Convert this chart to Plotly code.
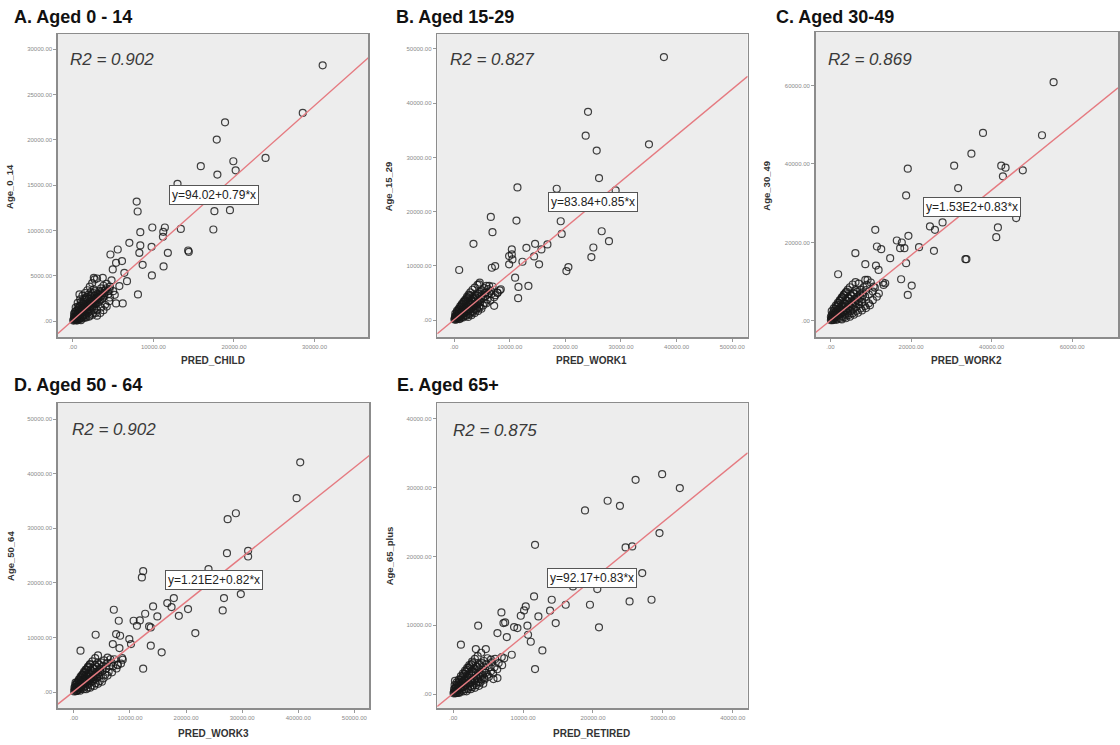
import plotly.graph_objects as go

W, H = 1120, 745

# ---------------- data ----------------
titles = ["A. Aged 0 - 14", "B. Aged 15-29", "C. Aged 30-49", "D. Aged 50 - 64", "E. Aged 65+"]
x_titles = ["PRED_CHILD", "PRED_WORK1", "PRED_WORK2", "PRED_WORK3", "PRED_RETIRED"]
y_titles = ["Age_0_14", "Age_15_29", "Age_30_49", "Age_50_64", "Age_65_plus"]
r2_values = ["0.902", "0.827", "0.869", "0.902", "0.875"]
intercepts = [94.02, 83.84, 153.0, 121.0, 92.17]
slopes = [0.79, 0.85, 0.83, 0.82, 0.83]
equations = ["y=94.02+0.79*x", "y=83.84+0.85*x", "y=1.53E2+0.83*x", "y=1.21E2+0.82*x", "y=92.17+0.83*x"]

x_ticks_A = [0, 10000, 20000, 30000]
y_ticks_A = [0, 5000, 10000, 15000, 20000, 25000, 30000]
x_ticks_B = [0, 10000, 20000, 30000, 40000, 50000]
y_ticks_B = [0, 10000, 20000, 30000, 40000, 50000]
x_ticks_C = [0, 20000, 40000, 60000]
y_ticks_C = [0, 20000, 40000, 60000]
x_ticks_D = [0, 10000, 20000, 30000, 40000, 50000]
y_ticks_D = [0, 10000, 20000, 30000, 40000, 50000]
x_ticks_E = [0, 10000, 20000, 30000, 40000]
y_ticks_E = [0, 10000, 20000, 30000, 40000]

A_points = [
    (31010, 28240), (28540, 22980), (18890, 21950), (17860, 20040), (19920, 17650), (23920, 18010),
    (15880, 17100), (20210, 16650), (17940, 16180), (12990, 15150), (19500, 12240), (17570, 12130),
    (17440, 10110), (7920, 13200), (8040, 12100), (7010, 8640), (8370, 9820), (9860, 10330),
    (11420, 10330), (11220, 9850), (13400, 10180), (11180, 9300), (9770, 8200), (8370, 8350),
    (8250, 7540), (11790, 7540), (14310, 7790), (14390, 7650), (8660, 6210), (9810, 5040),
    (11260, 6030), (8080, 2940), (5570, 7900), (4660, 7350), (5360, 6430), (6100, 6620),
    (4950, 5700), (6390, 5330), (6720, 4410), (5770, 3860), (4540, 3490), (6190, 1950),
    (5360, 1950), (820, 2940), (2600, 4780), (3710, 4780),
    (100, 200), (200, 500), (300, 150), (400, 700), (500, 300), (600, 900), (700, 450), (800, 1000),
    (900, 600), (1000, 1200), (1100, 800), (1200, 1400), (1300, 700), (1400, 1600), (1500, 1100),
    (1600, 1800), (1700, 1000), (1800, 1500), (1900, 2000), (2000, 1300), (2100, 2200), (2200, 1700),
    (2300, 2500), (2400, 1600), (2500, 2300), (2600, 2000), (2700, 2800), (2800, 1900), (2900, 2600),
    (3000, 2300), (3100, 3000), (3200, 2100), (3300, 3300), (3400, 2700), (3500, 3600), (3600, 2400),
    (3700, 3100), (3800, 3900), (3900, 2800), (4000, 3400), (4200, 4100), (4400, 3000), (4600, 3800),
    (4800, 4500), (5000, 3300), (350, 1500), (600, 2000), (900, 2400), (1200, 2800), (1500, 3100),
    (1800, 3400), (2100, 3800), (2400, 4200), (2700, 4600), (3000, 4700), (500, 50), (1000, 100),
    (1500, 400), (2000, 600), (2500, 900), (3000, 1200), (3500, 1500), (4000, 1800), (4500, 2200),
    (150, 800), (250, 1000), (700, 1300), (1300, 1900), (1600, 2500), (1900, 2900), (2200, 3200),
    (2600, 3500), (300, 400), (450, 550), (650, 650), (850, 850), (1050, 950), (1250, 1150),
    (1450, 1350), (1650, 1450), (1850, 1650), (2050, 1850), (2250, 2050), (2450, 2150), (2650, 2350),
    (2850, 2450), (3050, 2650), (3250, 2850), (3450, 3050), (3650, 3350), (200, 100), (400, 300),
    (550, 120), (750, 250), (950, 350), (1150, 450), (1350, 550), (1550, 650),
]
A_core = [
    (50, 50), (250, 300), (450, 150), (650, 400), (850, 200), (1050, 500), (1250, 300), (1450, 700),
    (1650, 400), (1850, 900), (2050, 500), (2250, 1100), (2450, 700), (2650, 1300), (2850, 900),
    (150, 450), (350, 850), (550, 1150), (750, 1450), (950, 1700), (1150, 1950), (1350, 2150),
    (1550, 2350), (1750, 2650), (1950, 2450), (2150, 2750), (2350, 2950), (2550, 3100), (2750, 3300),
    (550, 650), (750, 800), (950, 1050), (1150, 1250), (1350, 1450), (1550, 1600), (1750, 1750),
    (1950, 1800), (2150, 1550), (2350, 1850), (2550, 1650), (2750, 2100), (2950, 1900), (3150, 2500),
    (3350, 2300), (3550, 2800), (3750, 2600), (3950, 3100), (4150, 3600), (4350, 3300), (600, 1600),
    (1000, 2100), (1400, 2500), (400, 1100), (800, 1600), (3000, 600), (3400, 900), (3800, 1200),
    (4200, 1600), (4600, 2600), (5200, 2900),
]

B_points = [
    (37720, 48500), (24070, 38410), (23650, 34010), (25630, 31250), (35030, 32420), (26050, 26180),
    (18440, 24220), (11380, 24460), (29040, 23910), (6590, 19020), (11200, 18350), (19160, 18230),
    (19340, 15900), (6890, 16210), (26530, 16390), (27840, 14560), (25030, 13390), (24670, 11620),
    (3470, 14070), (14550, 14070), (12990, 13330), (16770, 13950), (15690, 13030), (14370, 11740),
    (15270, 10280), (12280, 10760), (10360, 13030), (10360, 12110), (9880, 11800), (10480, 11190),
    (9880, 10280), (7370, 9970), (6770, 9660), (900, 9240), (20540, 9790), (20180, 9050),
    (10960, 7830), (11560, 6120), (13350, 6300), (11500, 4040), (7190, 2630), (7780, 5080),
    (8380, 5690), (6290, 6300), (4490, 6610), (5690, 5080),
    (100, 300), (300, 100), (400, 800), (600, 400), (800, 1100), (900, 600), (1100, 1300), (1200, 800),
    (1400, 1700), (1500, 1000), (1700, 1900), (1800, 1300), (2000, 2300), (2100, 1500), (2300, 2600),
    (2400, 1800), (2600, 2900), (2700, 2100), (2900, 3200), (3000, 2300), (3200, 3500), (3300, 2600),
    (3500, 3900), (3600, 2800), (3800, 4200), (3900, 3100), (4100, 4500), (4200, 3300), (4400, 4800),
    (4500, 3600), (4700, 5200), (4800, 3800), (5000, 5500), (5200, 4100), (5400, 5900), (5600, 4400),
    (5800, 6300), (6000, 4700), (6300, 5000), (6600, 5400), (200, 1200), (500, 1700), (800, 2100),
    (1100, 2600), (1400, 3000), (1700, 3400), (2000, 3800), (2300, 4300), (2600, 4700), (2900, 5100),
    (3300, 5600), (3700, 6000), (4200, 6500), (4600, 6900), (1000, 200), (1600, 500), (2200, 800),
    (2800, 1100), (3400, 1500), (4000, 1900), (4600, 2300), (5200, 2700), (5800, 3100), (6500, 3600),
    (7200, 4200), (7800, 5000), (700, 900), (1300, 1500), (1900, 2100), (2500, 2500), (3100, 3000),
    (3700, 3500), (4300, 4000), (4900, 4500), (5500, 5000), (6100, 5700), (6900, 6200), (150, 600),
    (350, 500), (550, 1000), (750, 700),
]
B_core = [
    (50, 100), (300, 400), (500, 150), (700, 600), (900, 300), (1100, 900), (1300, 500), (1500, 1200),
    (1700, 700), (1900, 1500), (2100, 900), (2300, 1700), (2500, 1200), (2700, 1900), (2900, 1400),
    (3100, 2200), (3300, 1700), (3500, 2500), (3700, 2000), (3900, 2700), (4100, 2200), (4300, 3000),
    (4500, 2500), (4700, 3300), (250, 800), (450, 1300), (650, 1600), (850, 1900), (1050, 2200),
    (1250, 2500), (1450, 2800), (1650, 3100), (1850, 3400), (2050, 3600), (2250, 3900), (2450, 4100),
    (2650, 4400), (2850, 4600), (600, 1000), (1000, 1500), (1400, 2000), (1800, 2500), (2200, 3000),
    (2600, 3400), (3000, 3800), (3400, 4200), (3800, 4600), (4200, 5000), (2500, 600), (3100, 900),
    (3700, 1300), (4300, 1700), (4900, 2100), (5500, 3200), (6000, 3800), (6700, 4800), (7400, 4600),
    (8200, 5500),
]

C_points = [
    (55390, 60850), (52510, 47320), (37860, 47910), (34980, 42640), (30700, 39570), (19180, 38810),
    (42390, 39570), (43460, 39060), (42800, 36850), (47740, 38380), (18770, 32000), (31690, 33870),
    (46090, 26210), (41560, 23830), (41150, 21360), (27820, 25110), (24690, 24090), (25930, 23230),
    (11110, 23230), (11520, 18980), (12590, 18300), (6170, 17280), (16460, 20510), (17700, 20000),
    (18350, 18550), (17280, 18550), (19340, 21700), (21980, 18810), (25680, 17870), (14810, 16000),
    (8640, 14470), (11280, 14130), (33740, 15740), (33490, 15740), (18770, 14720), (17530, 10640),
    (20160, 9020), (19180, 6640), (1890, 11910), (11930, 13020), (13170, 9190), (13580, 9620),
    (10700, 8770), (8640, 10470),
    (200, 500), (500, 200), (700, 1500), (1000, 700), (1200, 2200), (1500, 1100), (1800, 2800),
    (2000, 1500), (2300, 3300), (2600, 1900), (2900, 3900), (3200, 2300), (3500, 4500), (3800, 2700),
    (4100, 5100), (4400, 3100), (4700, 5700), (5000, 3500), (5300, 6300), (5600, 4000), (5900, 6900),
    (6200, 4500), (6600, 7400), (7000, 5000), (7400, 8000), (7800, 5600), (8200, 8600), (8600, 6200),
    (9000, 9200), (9500, 6800), (10000, 9800), (10500, 7500), (11000, 8500), (300, 2500), (800, 3200),
    (1300, 3900), (1800, 4600), (2300, 5300), (2800, 6000), (3300, 6700), (3800, 7300), (4300, 8000),
    (4800, 8600), (5500, 9300), (6200, 9900), (1500, 300), (2500, 600), (3500, 1000), (4500, 1500),
    (5500, 2000), (6500, 2600), (7500, 3200), (8500, 3800), (9500, 4500), (10500, 5300), (11500, 6200),
    (1000, 1200), (1700, 2000), (2400, 2700), (3100, 3200), (3800, 3800), (4500, 4400), (5200, 5000),
    (5900, 5600), (6600, 6100), (7300, 6800), (8000, 7300), (8800, 7900), (100, 1000), (400, 900),
    (600, 600), (900, 1800),
]
C_core = [
    (100, 200), (400, 700), (800, 300), (1100, 1000), (1500, 500), (1800, 1500), (2200, 800),
    (2500, 2000), (2900, 1200), (3200, 2600), (3600, 1600), (3900, 3100), (4300, 2000), (4600, 3700),
    (5000, 2500), (5300, 4300), (5700, 3000), (6000, 4900), (6400, 3600), (6700, 5500), (7100, 4200),
    (7400, 6000), (7800, 4800), (8100, 6600), (300, 1500), (600, 2000), (900, 2600), (1200, 3100),
    (1500, 3600), (1800, 4100), (2100, 4600), (2400, 5100), (2700, 5600), (3000, 6100), (3300, 6500),
    (3600, 7000), (4000, 7500), (800, 1300), (1400, 2200), (2000, 3000), (2600, 3800), (3200, 4500),
    (3800, 5200), (4400, 5900), (5000, 6600), (5600, 7200), (6200, 7900), (2800, 400), (3800, 700),
    (4800, 1100), (5800, 1600), (6800, 2100), (7800, 2700), (8800, 3300), (9800, 4000), (12000, 7000),
    (13000, 9800), (9200, 10500), (7000, 9500),
]

D_points = [
    (40350, 42070), (39710, 35490), (28880, 32740), (27410, 31650), (27290, 25430), (31060, 25850),
    (31060, 24820), (12350, 22130), (12120, 20980), (24000, 22500), (17820, 17200), (16650, 16280),
    (17410, 15550), (26760, 17200), (29760, 17930), (26530, 14940), (20350, 15180), (18710, 13960),
    (14120, 15670), (14880, 13840), (12710, 14330), (7120, 15060), (8000, 13050), (10650, 13050),
    (11760, 13110), (11240, 12130), (13410, 12010), (13710, 11830), (21650, 10790), (7530, 10610),
    (8240, 10300), (3880, 10490), (13710, 8480), (15650, 7260), (12350, 4270), (1180, 7560),
    (9880, 9700), (10180, 8780), (8120, 8050), (6940, 8780), (8710, 5910), (7820, 5000),
    (150, 400), (350, 150), (500, 1000), (700, 500), (900, 1400), (1000, 800), (1200, 1700),
    (1400, 1000), (1600, 2100), (1700, 1300), (1900, 2400), (2100, 1600), (2300, 2800), (2400, 1900),
    (2600, 3100), (2800, 2100), (3000, 3500), (3100, 2400), (3300, 3800), (3500, 2700), (3700, 4200),
    (3900, 3000), (4100, 4600), (4300, 3300), (4500, 5000), (4700, 3600), (4900, 5400), (5100, 3900),
    (5400, 5800), (5700, 4300), (6000, 6300), (6300, 4700), (6700, 5400), (7200, 6000), (250, 1300),
    (600, 1800), (900, 2300), (1200, 2800), (1500, 3200), (1800, 3700), (2100, 4100), (2500, 4600),
    (2900, 5100), (3300, 5600), (3800, 6200), (4300, 6700), (1100, 250), (1800, 500), (2500, 800),
    (3200, 1200), (3900, 1600), (4600, 2000), (5300, 2500), (6000, 3000), (6800, 3600), (7600, 4300),
    (8400, 5200), (800, 1100), (1300, 1500), (1800, 1900), (2300, 2300), (2800, 2700), (3400, 3200),
    (4000, 3700), (4600, 4300), (5200, 4800), (5900, 5300), (6500, 6000), (100, 800), (450, 700),
    (650, 300), (300, 1700),
]
D_core = [
    (50, 100), (300, 500), (500, 200), (700, 800), (900, 400), (1100, 1100), (1300, 600), (1500, 1400),
    (1700, 800), (1900, 1700), (2100, 1100), (2300, 2000), (2500, 1400), (2700, 2300), (2900, 1700),
    (3100, 2600), (3300, 2000), (3500, 2900), (3700, 2300), (3900, 3200), (4100, 2600), (4300, 3600),
    (4500, 2900), (4700, 4000), (250, 900), (450, 1400), (650, 1700), (850, 2000), (1050, 2300),
    (1250, 2600), (1450, 2900), (1650, 3200), (1850, 3500), (2050, 3800), (2250, 4100), (2450, 4400),
    (2650, 4700), (2850, 5000), (600, 1100), (1000, 1600), (1400, 2100), (1800, 2600), (2200, 3100),
    (2600, 3500), (3000, 4000), (3400, 4400), (3800, 4900), (4200, 5300), (2200, 500), (2900, 800),
    (3600, 1100), (4300, 1500), (5000, 1900), (5600, 3200), (6200, 3700), (7000, 4700), (7800, 4900),
    (8600, 6200),
]

E_points = [
    (29900, 31960), (26100, 31140), (32430, 29930), (22100, 28090), (23860, 27360), (18860, 26680),
    (29520, 23390), (24670, 21310), (25620, 21450), (11710, 21690), (27050, 17580), (17140, 15640),
    (20620, 15250), (25240, 13460), (28380, 13700), (19570, 12980), (16100, 12980), (14100, 13700),
    (11570, 14190), (13860, 12110), (12190, 11280), (10380, 12740), (10140, 12150), (9670, 11380),
    (6900, 11860), (14670, 10310), (20860, 9690), (10620, 9930), (8710, 9730), (9190, 9590),
    (7430, 10410), (7190, 10310), (3570, 9930), (6330, 8860), (7670, 8280), (10710, 8620),
    (11100, 7600), (12760, 6340), (11710, 3630), (1100, 7170), (8380, 5710), (6950, 5380),
    (5760, 2180), (6330, 2320), (4670, 6540), (3240, 6540),
    (100, 300), (300, 100), (400, 900), (600, 400), (800, 1200), (900, 700), (1100, 1500), (1200, 900),
    (1400, 1800), (1500, 1100), (1700, 2100), (1800, 1300), (2000, 2400), (2100, 1500), (2300, 2700),
    (2400, 1800), (2600, 3000), (2700, 2000), (2900, 3300), (3000, 2200), (3200, 3600), (3300, 2400),
    (3500, 3900), (3600, 2700), (3800, 4200), (3900, 2900), (4100, 4500), (4200, 3200), (4400, 4800),
    (4600, 3500), (4900, 5200), (5200, 3900), (5500, 4600), (6000, 5100), (200, 1300), (500, 1700),
    (800, 2100), (1100, 2600), (1400, 3000), (1700, 3400), (2000, 3800), (2300, 4200), (2700, 4700),
    (3100, 5100), (3500, 5500), (4000, 6000), (900, 200), (1500, 400), (2100, 700), (2700, 1000),
    (3300, 1300), (3900, 1700), (4500, 2100), (5100, 2500), (5700, 3000), (6300, 3600), (7000, 4200),
    (700, 900), (1200, 1400), (1700, 1900), (2200, 2300), (2700, 2700), (3200, 3100), (3700, 3600),
    (4300, 4000), (4800, 4400), (5400, 5000), (150, 700), (400, 500), (650, 150), (250, 1900),
]
E_core = [
    (50, 100), (250, 400), (450, 150), (650, 600), (850, 300), (1050, 900), (1250, 500), (1450, 1100),
    (1650, 700), (1850, 1300), (2050, 900), (2250, 1600), (2450, 1100), (2650, 1800), (2850, 1300),
    (3050, 2000), (3250, 1600), (3450, 2300), (3650, 1800), (3850, 2500), (4050, 2100), (4250, 2800),
    (4450, 2300), (4650, 3100), (200, 800), (400, 1100), (600, 1400), (800, 1700), (1000, 2000),
    (1200, 2300), (1400, 2600), (1600, 2900), (1800, 3200), (2000, 3500), (2200, 3800), (2400, 4000),
    (2600, 4300), (2800, 4500), (550, 900), (900, 1400), (1250, 1800), (1600, 2200), (1950, 2600),
    (2300, 3000), (2650, 3300), (3000, 3700), (3350, 4000), (3700, 4400), (1900, 400), (2500, 700),
    (3100, 900), (3700, 1200), (4300, 1500), (4900, 2800), (5400, 3300), (5900, 3900), (6500, 4500),
    (7300, 5200),
]

points = [A_points + A_core, B_points + B_core, C_points + C_core, D_points + D_core, E_points + E_core]
x_ticks = [x_ticks_A, x_ticks_B, x_ticks_C, x_ticks_D, x_ticks_E]
y_ticks = [y_ticks_A, y_ticks_B, y_ticks_C, y_ticks_D, y_ticks_E]

# ---------------- layout (pixels) ----------------
boxes = [  # left, right, top, bottom in pixels
    (58, 369, 34, 337),
    (438, 749, 34, 337),
    (817, 1120, 32, 337),
    (58, 370, 403, 708),
    (438, 749, 403, 708),
]
x_ranges = [(-1860, 36680), (-3050, 52780), (-3720, 71380), (-2850, 52670), (-2290, 42140)]
y_ranges = [(-1760, 31700), (-3110, 52750), (-4080, 73630), (-2930, 52930), (-2030, 42300)]
title_pos = [(12, 17), (395, 17), (775, 17), (12, 385), (396, 385)]
r2_pos = [(68, 60), (449, 60), (827, 60), (70, 429), (452, 430)]
eq_pos = [(214, 195), (594, 202), (974, 207), (214, 580), (593, 578)]
xt_pos = [(213, 360), (593, 360), (968, 360), (214, 733), (593, 733)]
yt_pos = [(10, 186), (390, 186), (768, 186), (10, 556), (390, 556)]


def px(x):
    return x / W


def py(y):
    return 1 - y / H


fig = go.Figure()
annotations = []
FONT = "Liberation Sans, Arial, sans-serif"
MARK = "rgba(25,25,25,0.82)"

for i in range(5):
    n = i + 1
    xa = "x" if n == 1 else f"x{n}"
    ya = "y" if n == 1 else f"y{n}"
    xs = [p[0] for p in points[i]]
    ys = [p[1] for p in points[i]]
    fig.add_trace(go.Scatter(
        x=xs, y=ys, mode="markers", xaxis=xa, yaxis=ya, showlegend=False,
        marker=dict(symbol="circle-open", size=7, color=MARK, line=dict(width=1.2, color=MARK)),
        cliponaxis=True, hoverinfo="skip",
    ))
    x0, x1 = x_ranges[i]
    fig.add_trace(go.Scatter(
        x=[x0, x1], y=[intercepts[i] + slopes[i] * x0, intercepts[i] + slopes[i] * x1],
        mode="lines", xaxis=xa, yaxis=ya, showlegend=False, hoverinfo="skip",
        line=dict(color="#e57a80", width=1.4),
    ))
    l, r, t, b = boxes[i]
    axis_common = dict(
        showgrid=False, zeroline=False, showline=True, mirror=True,
        linecolor="#8c8c8c", linewidth=1.5, ticks="outside", ticklen=3,
        tickcolor="#9a9a9a", tickfont=dict(size=6, color="#8a8a8a", family=FONT),
        fixedrange=True,
    )
    xkey = "xaxis" if n == 1 else f"xaxis{n}"
    ykey = "yaxis" if n == 1 else f"yaxis{n}"
    fig.layout[xkey] = dict(
        domain=[px(l), px(r)], range=list(x_ranges[i]), anchor=ya,
        tickvals=x_ticks[i], ticktext=[".00" if v == 0 else f"{v}.00" for v in x_ticks[i]],
        **axis_common,
    )
    fig.layout[ykey] = dict(
        domain=[py(b), py(t)], range=list(y_ranges[i]), anchor=xa,
        tickvals=y_ticks[i], ticktext=[".00" if v == 0 else f"{v}.00" for v in y_ticks[i]],
        **axis_common,
    )
    annotations.append(dict(
        text=f"<b>{titles[i]}</b>", x=px(title_pos[i][0]), y=py(title_pos[i][1]),
        xref="paper", yref="paper", xanchor="left", yanchor="middle", showarrow=False,
        font=dict(size=18, color="#111111", family=FONT),
    ))
    annotations.append(dict(
        text=f"<i>R2 = {r2_values[i]}</i>", x=px(r2_pos[i][0]), y=py(r2_pos[i][1]),
        xref="paper", yref="paper", xanchor="left", yanchor="middle", showarrow=False,
        font=dict(size=17, color="#3a3a3a", family=FONT),
    ))
    annotations.append(dict(
        text=equations[i], x=px(eq_pos[i][0]), y=py(eq_pos[i][1]),
        xref="paper", yref="paper", xanchor="center", yanchor="middle", showarrow=False,
        font=dict(size=12, color="#222222", family=FONT),
        bgcolor="white", bordercolor="#555555", borderwidth=1, borderpad=2,
    ))
    annotations.append(dict(
        text=f"<b>{x_titles[i]}</b>", x=px(xt_pos[i][0]), y=py(xt_pos[i][1]),
        xref="paper", yref="paper", xanchor="center", yanchor="middle", showarrow=False,
        font=dict(size=10, color="#333333", family=FONT),
    ))
    annotations.append(dict(
        text=f"<b>{y_titles[i]}</b>", x=px(yt_pos[i][0]), y=py(yt_pos[i][1]),
        xref="paper", yref="paper", xanchor="center", yanchor="middle", showarrow=False,
        textangle=-90, font=dict(size=9.5, color="#333333", family=FONT),
    ))

fig.update_layout(
    width=W, height=H, margin=dict(l=0, r=0, t=0, b=0),
    paper_bgcolor="white", plot_bgcolor="#ededed",
    annotations=annotations, showlegend=False,
    font=dict(family=FONT), hovermode=False,
)

fig.write_html(
    "out.html",
    config={"displayModeBar": False, "staticPlot": True},
    post_script="document.body.style.margin='0';document.body.style.overflow='hidden';",
)
